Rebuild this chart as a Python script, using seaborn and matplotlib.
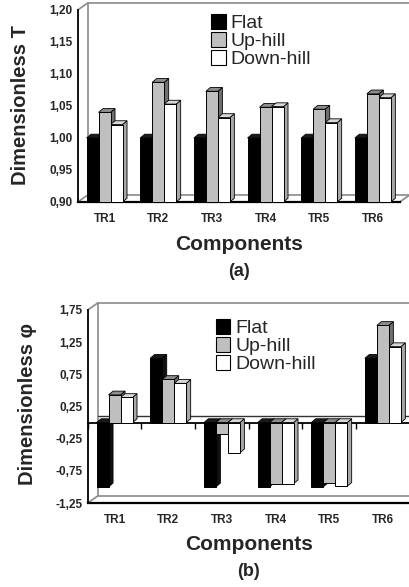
import numpy as np
import pandas as pd
import matplotlib
matplotlib.use("Agg")
import matplotlib.pyplot as plt
import seaborn as sns
from matplotlib.patches import Polygon, Patch
from matplotlib.lines import Line2D

# ---------------- data ----------------
components = ["TR1", "TR2", "TR3", "TR4", "TR5", "TR6"]
conditions = ["Flat", "Up-hill", "Down-hill"]

t_flat = [1.000, 1.000, 1.000, 1.000, 1.000, 1.000]
t_up = [1.040, 1.087, 1.073, 1.048, 1.045, 1.069]
t_down = [1.021, 1.053, 1.032, 1.049, 1.024, 1.063]

phi_flat = [-1.00, 1.00, -1.00, -1.00, -1.00, 1.00]
phi_up = [0.43, 0.67, -0.17, -0.95, -0.94, 1.51]
phi_down = [0.39, 0.61, -0.47, -0.95, -0.99, 1.18]

t_ticks = [0.90, 0.95, 1.00, 1.05, 1.10, 1.15, 1.20]
phi_ticks = [-1.25, -0.75, -0.25, 0.25, 0.75, 1.25, 1.75]

bar_colors = ["#000000", "#bfbfbf", "#ffffff"]
side_colors = {"#000000": "#111111", "#bfbfbf": "#6f6f6f", "#ffffff": "#a8a8a8"}
top_colors = {"#000000": "#1a1a1a", "#bfbfbf": "#8c8c8c", "#ffffff": "#d8d8d8"}

W, H = 409, 587
sns.set_style("white")
plt.rcParams["font.family"] = ["Liberation Sans", "DejaVu Sans"]

fig = plt.figure(figsize=(W / 100, H / 100), dpi=100)


def fmt(v):
    return f"{v:.2f}".replace(".", ",")


def panel(rect, vals, ylim, yticks, ylabel, ylabel_xy, letter, comp_y, letter_y,
          leg_xy, zero_axis):
    ax = fig.add_axes(rect)
    df = pd.DataFrame({
        "Component": components * 3,
        "Condition": np.repeat(conditions, len(components)),
        "Value": np.concatenate(vals),
    })
    sns.barplot(data=df, x="Component", y="Value", hue="Condition",
                order=components, hue_order=conditions, palette=bar_colors,
                saturation=1, edgecolor="black", linewidth=0.7, width=0.67,
                legend=False, ax=ax, zorder=3)
    ax.set_xlim(-0.5, len(components) - 0.5)
    ax.set_ylim(*ylim)
    fig.canvas.draw()

    # pseudo-3D depth for each bar (derived from the bar patches)
    bb = ax.get_window_extent()
    dx = 4.5 * (len(components)) / bb.width
    dy = 3.8 * (ylim[1] - ylim[0]) / bb.height
    for p in list(ax.patches):
        fc = matplotlib.colors.to_hex(p.get_facecolor())
        x0, w = p.get_x(), p.get_width()
        y0, h = p.get_y(), p.get_height()
        lo, hi = min(y0, y0 + h), max(y0, y0 + h)
        lo = max(lo, ylim[0])
        side = Polygon([(x0 + w, lo), (x0 + w, hi), (x0 + w + dx, hi + dy),
                        (x0 + w + dx, lo + dy)], closed=True,
                       facecolor=side_colors.get(fc, "#888888"),
                       edgecolor="black", linewidth=0.6, zorder=2)
        top = Polygon([(x0, hi), (x0 + dx, hi + dy), (x0 + w + dx, hi + dy),
                       (x0 + w, hi)], closed=True,
                      facecolor=top_colors.get(fc, "#aaaaaa"),
                      edgecolor="black", linewidth=0.6, zorder=2)
        ax.add_patch(side)
        ax.add_patch(top)

    # back wall (3D frame)
    ox = 10.0 / bb.width
    oy = 7.0 / bb.height
    wall = "#8a8a8a"
    kw = dict(transform=ax.transAxes, color=wall, lw=1.2, clip_on=False, zorder=1)
    ax.add_line(Line2D([ox, ox, 1.2], [1 + oy, oy, oy], **kw))
    ax.add_line(Line2D([ox, 1.2], [1 + oy, 1 + oy], **kw))
    ax.add_line(Line2D([0, ox], [0, oy], **kw))
    ax.add_line(Line2D([0, ox], [1, 1 + oy], **kw))
    ax.add_line(Line2D([1, 1 + ox], [0, oy], **kw))

    # spines
    for s in ["top", "right"]:
        ax.spines[s].set_visible(False)
    ax.spines["left"].set_color("black")
    ax.spines["left"].set_linewidth(1.3)
    ax.spines["bottom"].set_color("black")
    ax.spines["bottom"].set_linewidth(1.6)

    bounds = np.arange(-0.5, len(components), 1.0)
    ax.set_xticks(range(len(components)))
    ax.set_xticklabels(components, fontsize=8.5, fontweight="bold")
    ax.set_xticks(bounds, minor=True)
    ax.tick_params(axis="x", which="major", length=0, pad=8)
    ax.tick_params(axis="x", which="minor", length=4, width=1, direction="out",
                   color="black")
    ax.set_yticks(yticks)
    ax.set_yticklabels([fmt(v) for v in yticks], fontsize=8.5, fontweight="bold")
    ax.tick_params(axis="y", length=3, width=1, direction="out", color="black",
                   pad=1)
    ax.set_xlabel("")
    ax.set_ylabel("")

    if zero_axis:
        zfrac = (0 - ylim[0]) / (ylim[1] - ylim[0])
        ax.add_line(Line2D([ox, 1.2], [zfrac + oy, zfrac + oy],
                           transform=ax.transAxes, color="#333333", lw=1.0,
                           clip_on=False, zorder=1))
        sec = ax.secondary_xaxis(zfrac)
        sec.set_xticks(bounds)
        sec.set_xticklabels([])
        sec.tick_params(length=4, width=1, direction="out", color="black")
        sec.spines["bottom"].set_linewidth(1.3)
        sec.spines["bottom"].set_color("black")

    handles = [Patch(facecolor=c, edgecolor="black", linewidth=0.8, label=l)
               for c, l in zip(bar_colors, conditions)]
    ax.legend(handles=handles, loc="upper left", bbox_to_anchor=leg_xy,
              bbox_transform=ax.transAxes, frameon=False, fontsize=14,
              handlelength=0.75, handleheight=0.8, handletextpad=0.25,
              labelspacing=0.0, borderpad=0, borderaxespad=0)

    cx = rect[0] + rect[2] / 2
    fig.text(cx, 1 - comp_y / H, "Components", ha="center", va="center",
             fontsize=15, fontweight="bold")
    fig.text(cx, 1 - letter_y / H, letter, ha="center", va="center",
             fontsize=13, fontweight="bold")
    fig.text(ylabel_xy[0] / W, 1 - ylabel_xy[1] / H, ylabel, rotation=90,
             ha="center", va="center", fontsize=14.5, fontweight="bold")
    return ax


panel([77.7 / W, 1 - 202 / H, 322 / W, 192 / H],
      [t_flat, t_up, t_down], (0.90, 1.20), t_ticks,
      "Dimensionless T", (21, 105), "(a)", 245, 272, (0.415, 0.98), False)

panel([87.7 / W, 1 - 503 / H, 322 / W, 193 / H],
      [phi_flat, phi_up, phi_down], (-1.25, 1.75), phi_ticks,
      "Dimensionless φ", (28, 404), "(b)", 545, 572, (0.398, 0.955), True)

fig.savefig("out.png", dpi=100)
